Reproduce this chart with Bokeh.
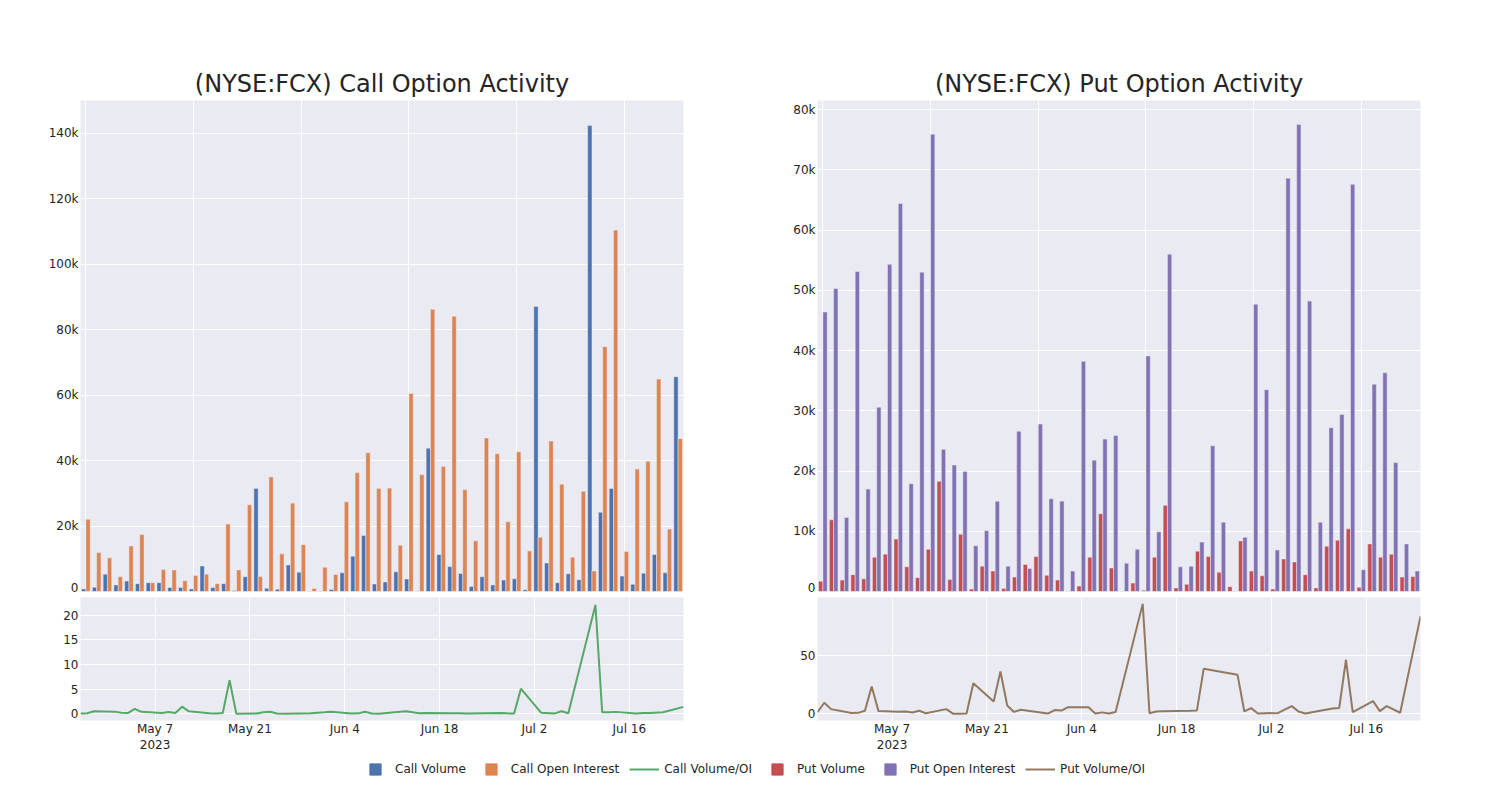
import pandas as pd
from bokeh.plotting import figure
from bokeh.models import (ColumnDataSource, Range1d, FixedTicker, NumeralTickFormatter,
                          DatetimeTickFormatter, Legend, LegendItem, Grid)
from bokeh.layouts import column, row
from bokeh.transform import dodge
from bokeh.embed import file_html
from bokeh.resources import INLINE

# ---------------- data ----------------
dates = ["2023-04-26", "2023-04-27", "2023-04-28", "2023-05-01", "2023-05-02", "2023-05-03",
         "2023-05-04", "2023-05-05", "2023-05-08", "2023-05-09", "2023-05-10", "2023-05-11",
         "2023-05-12", "2023-05-15", "2023-05-16", "2023-05-17", "2023-05-18", "2023-05-19",
         "2023-05-22", "2023-05-23", "2023-05-24", "2023-05-25", "2023-05-26", "2023-05-30",
         "2023-05-31", "2023-06-01", "2023-06-02", "2023-06-05", "2023-06-06", "2023-06-07",
         "2023-06-08", "2023-06-09", "2023-06-13", "2023-06-14", "2023-06-15", "2023-06-16",
         "2023-06-20", "2023-06-21", "2023-06-22", "2023-06-27", "2023-06-28", "2023-06-29",
         "2023-06-30", "2023-07-03", "2023-07-05", "2023-07-06", "2023-07-07", "2023-07-11",
         "2023-07-12", "2023-07-13", "2023-07-14", "2023-07-17", "2023-07-18", "2023-07-19",
         "2023-07-21", "2023-07-24"]

# values in thousands of contracts
call_volume_k = [0.8, 1.3, 5.3, 2.0, 3.2, 2.4, 2.7, 2.7, 1.2, 1.2, 0.8, 7.8, 1.2, 2.4, 0.3,
                 4.5, 31.5, 1.0, 0.7, 8.1, 5.9, 0.05, 0.1, 0.6, 5.7, 10.8, 17.1, 2.3, 2.9, 6.0,
                 3.8, 0.05, 43.8, 11.3, 7.6, 5.5, 1.5, 4.5, 2.0, 3.5, 3.9, 0.5, 87.1, 8.7, 2.7,
                 5.4, 3.6, 142.4, 24.2, 31.5, 4.7, 2.2, 5.6, 11.3, 5.7, 65.6]
call_oi_k = [22.1, 11.9, 10.3, 4.5, 13.9, 17.4, 2.7, 6.7, 6.6, 3.3, 4.9, 5.3, 2.4, 20.6, 6.6,
             26.5, 4.6, 35.0, 11.5, 27.0, 14.3, 0.9, 7.4, 5.2, 27.4, 36.3, 42.4, 31.5, 31.6, 14.1,
             60.5, 35.7, 86.2, 38.2, 84.1, 31.1, 15.5, 46.9, 42.1, 21.3, 42.7, 12.4, 16.6, 46.0,
             32.8, 10.5, 30.6, 6.3, 74.8, 110.4, 12.2, 37.4, 39.8, 64.9, 19.1, 46.7]
call_vol_oi = [0.04, 0.11, 0.51, 0.44, 0.23, 0.14, 1.0, 0.4, 0.18, 0.36, 0.16, 1.45, 0.5, 0.12,
               0.05, 0.17, 6.8, 0.03, 0.06, 0.3, 0.41, 0.06, 0.01, 0.12, 0.21, 0.3, 0.4, 0.07,
               0.09, 0.43, 0.06, 0.0, 0.51, 0.3, 0.09, 0.18, 0.1, 0.1, 0.05, 0.16, 0.09, 0.04,
               5.1, 0.19, 0.08, 0.51, 0.12, 22.1, 0.32, 0.29, 0.39, 0.06, 0.14, 0.17, 0.3, 1.4]
put_volume_k = [1.7, 11.9, 1.9, 2.8, 2.1, 5.7, 6.2, 8.7, 4.1, 2.3, 7.0, 18.3, 2.0, 9.5, 0.4,
                4.2, 3.4, 0.5, 2.4, 4.5, 5.8, 2.7, 1.9, 0.05, 0.9, 5.7, 12.9, 3.9, 0.05, 1.4,
                0.2, 5.7, 14.3, 0.6, 1.2, 6.7, 5.8, 3.2, 0.8, 8.4, 3.4, 2.6, 0.4, 5.4, 4.9,
                2.8, 0.6, 7.5, 8.5, 10.4, 0.7, 7.9, 5.7, 6.2, 2.4, 2.5]
put_oi_k = [46.4, 50.3, 12.3, 53.1, 17.0, 30.6, 54.3, 64.4, 17.9, 53.0, 75.9, 23.6, 21.0, 19.9,
            7.6, 10.1, 15.0, 4.2, 26.6, 3.8, 27.8, 15.4, 15.0, 3.4, 38.2, 21.8, 25.3, 25.9, 4.7,
            7.0, 39.1, 9.9, 56.0, 4.1, 4.2, 8.2, 24.2, 11.5, 0.05, 9.0, 47.7, 33.5, 6.9, 68.6,
            77.5, 48.2, 11.5, 27.2, 29.4, 67.6, 3.6, 34.4, 36.3, 21.4, 7.9, 3.4]
put_vol_oi = [1.4, 9.5, 4.0, 0.6, 0.8, 2.6, 23.5, 2.3, 1.7, 2.0, 1.1, 2.6, 0.5, 4.0, 0.1, 0.1,
              0.2, 26.4, 10.6, 36.5, 7.2, 1.6, 3.5, 0.2, 3.2, 2.8, 5.7, 5.7, 0.2, 1.2, 0.2, 1.5,
              94.8, 0.4, 2.0, 2.2, 2.7, 2.9, 38.8, 33.6, 2.0, 4.9, 0.3, 0.7, 6.6, 2.0, 0.2, 4.6,
              4.9, 46.6, 1.4, 10.9, 2.3, 6.6, 0.9, 84.0]

call_bar_yticks = [0, 20000, 40000, 60000, 80000, 100000, 120000, 140000]
put_bar_yticks = [0, 10000, 20000, 30000, 40000, 50000, 60000, 70000, 80000]
call_ratio_yticks = [0, 5, 10, 15, 20]
put_ratio_yticks = [0, 50]
date_ticks = ["2023-05-07", "2023-05-21", "2023-06-04", "2023-06-18", "2023-07-02", "2023-07-16"]

titles = ["(NYSE:FCX) Call Option Activity", "(NYSE:FCX) Put Option Activity"]
legend_labels = ["Call Volume", "Call Open Interest", "Call Volume/OI",
                 "Put Volume", "Put Open Interest", "Put Volume/OI"]

# ---------------- style ----------------
FONT = "DejaVu Sans"
TXT = "#242424"
BG = "#EAEAF2"
BLUE, ORANGE, GREEN = "#4C72B0", "#DD8452", "#55A868"
RED, PURPLE, BROWN = "#C44E52", "#8172B3", "#937860"

n = len(dates)
dts = pd.to_datetime(dates)
src = ColumnDataSource(dict(
    idx=list(range(n)), date=dts,
    cv=[v * 1000 for v in call_volume_k], coi=[v * 1000 for v in call_oi_k], cr=call_vol_oi,
    pv=[v * 1000 for v in put_volume_k], poi=[v * 1000 for v in put_oi_k], pr=put_vol_oi,
))
tick_ms = [pd.Timestamp(t).value / 1e6 for t in date_ticks]


def style_axes(p):
    p.background_fill_color = BG
    p.border_fill_color = "white"
    p.outline_line_color = None
    p.grid.grid_line_color = "white"
    p.grid.grid_line_width = 1
    for ax in p.axis:
        ax.axis_line_color = None
        ax.major_tick_line_color = None
        ax.minor_tick_line_color = None
        ax.major_tick_out = 0
        ax.major_tick_in = 0
        ax.minor_tick_out = 0
        ax.major_label_text_font = FONT
        ax.major_label_text_font_size = "12px"
        ax.major_label_text_color = TXT
        ax.major_label_standoff = 2


def bar_fig(title, yticks, ymax, left, right):
    p = figure(frame_width=603, frame_height=491,
               x_range=Range1d(-0.5, n - 0.5), y_range=Range1d(0, ymax),
               x_axis_location=None, min_border_left=left, min_border_right=right,
               min_border_top=100, min_border_bottom=3,
               output_backend="svg", toolbar_location=None, title=title)
    p.title.align = "center"
    p.title.text_font = FONT
    p.title.text_font_size = "24px"
    p.title.text_font_style = "normal"
    p.title.text_color = TXT
    p.title.standoff = 5
    p.yaxis.ticker = FixedTicker(ticks=yticks)
    p.yaxis.formatter = NumeralTickFormatter(format="0a")
    xt = FixedTicker(ticks=list(range(0, n, 10)))
    if len(p.xgrid) == 0:
        p.add_layout(Grid(dimension=0, ticker=xt), "center")
    else:
        p.xgrid.ticker = xt
    p.ygrid.ticker = FixedTicker(ticks=yticks)
    style_axes(p)
    return p


def line_fig(yticks, yr, left, right):
    p = figure(frame_width=603, frame_height=123, x_axis_type="datetime",
               x_range=Range1d(dts[0], dts[-1]), y_range=Range1d(*yr),
               min_border_left=left, min_border_right=right,
               min_border_top=3, min_border_bottom=34,
               output_backend="svg", toolbar_location=None)
    p.xaxis.ticker = FixedTicker(ticks=tick_ms)
    p.xaxis.formatter = DatetimeTickFormatter(days="%b %-d", months="%b %-d",
                                              context="%Y", context_which="start")
    p.yaxis.ticker = FixedTicker(ticks=yticks)
    style_axes(p)
    p.xaxis.major_label_standoff = 1
    return p


# ---- call side ----
p_cb = bar_fig(titles[0], call_bar_yticks, 150000, 80, 60)
p_cb.vbar(x=dodge("idx", -0.2, range=p_cb.x_range), top="cv", width=0.4, source=src,
          fill_color=BLUE, line_color=BG, line_width=0.5)
p_cb.vbar(x=dodge("idx", 0.2, range=p_cb.x_range), top="coi", width=0.4, source=src,
          fill_color=ORANGE, line_color=BG, line_width=0.5)

p_cl = line_fig(call_ratio_yticks, (-1.36, 23.6), 80, 60)
p_cl.line(x="date", y="cr", source=src, line_color=GREEN, line_width=2)

# ---- put side ----
p_pb = bar_fig(titles[1], put_bar_yticks, 81500, 74, 60)
p_pb.vbar(x=dodge("idx", -0.2, range=p_pb.x_range), top="pv", width=0.4, source=src,
          fill_color=RED, line_color=BG, line_width=0.5)
p_pb.vbar(x=dodge("idx", 0.2, range=p_pb.x_range), top="poi", width=0.4, source=src,
          fill_color=PURPLE, line_color=BG, line_width=0.5)

p_pl = line_fig(put_ratio_yticks, (-5.8, 100.3), 74, 60)
p_pl.line(x="date", y="pr", source=src, line_color=BROWN, line_width=2)

# ---- legend strip ----
p_leg = figure(width=1480, height=28, x_range=Range1d(0, 1), y_range=Range1d(0, 1),
               x_axis_location=None, y_axis_location=None, min_border=0,
               output_backend="svg", toolbar_location=None)
p_leg.outline_line_color = None
p_leg.grid.visible = False
# one point far outside the visible range, only so the legend can draw its glyphs
offscreen = ColumnDataSource(dict(x=[-100], y=[-100]))
rs = []
for kind, col in [("sq", BLUE), ("sq", ORANGE), ("ln", GREEN),
                  ("sq", RED), ("sq", PURPLE), ("ln", BROWN)]:
    if kind == "sq":
        rs.append(p_leg.scatter("x", "y", marker="square", size=12, fill_color=col,
                                line_color=col, source=offscreen))
    else:
        rs.append(p_leg.line("x", "y", line_color=col, line_width=2, source=offscreen))
legend = Legend(items=[LegendItem(label=l, renderers=[r]) for l, r in zip(legend_labels, rs)],
                orientation="horizontal", location=(360, 0), glyph_width=30, glyph_height=28,
                label_standoff=5, spacing=10, padding=0, margin=0,
                label_text_font=FONT, label_text_font_size="12px", label_text_color=TXT,
                background_fill_alpha=0, border_line_color=None)
p_leg.add_layout(legend, "center")

layout = column(row(column(p_cb, p_cl, spacing=0), column(p_pb, p_pl, spacing=0), spacing=0),
                p_leg, spacing=0)

open("out.html", "w").write(file_html(layout, INLINE))
